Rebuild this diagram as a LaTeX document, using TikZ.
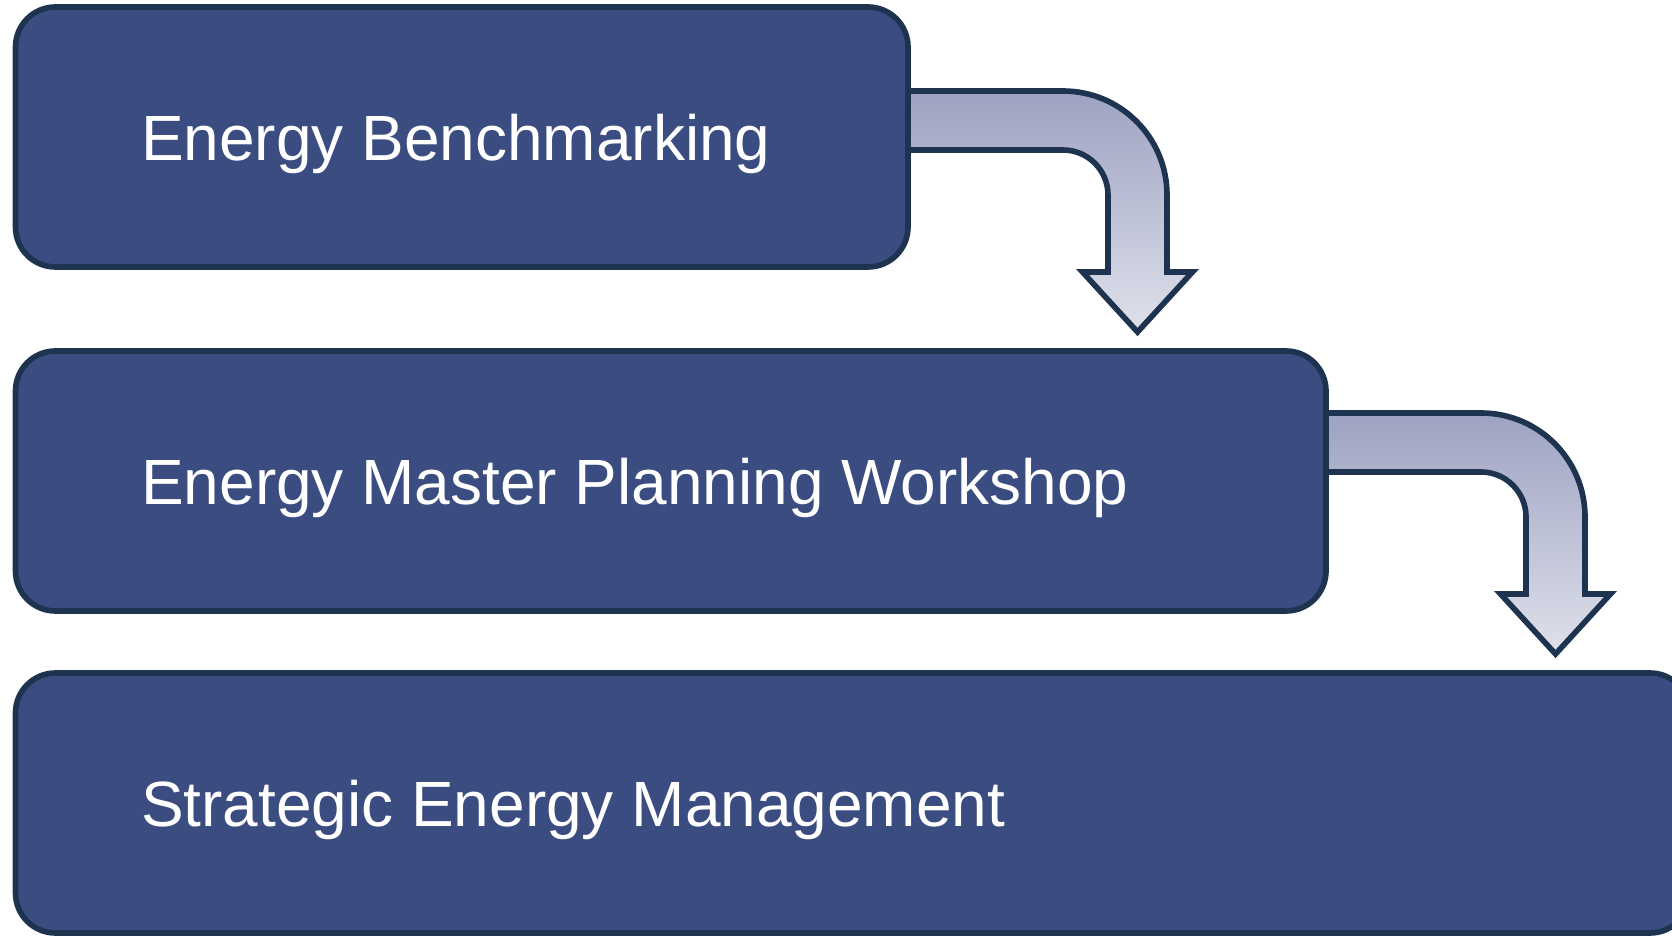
\documentclass[tikz,border=0pt]{standalone}
\usepackage{fontspec}
\setmainfont{Liberation Sans}
\usepackage{tikz}
\usetikzlibrary{calc}

\definecolor{boxblue}{RGB}{59,76,128}
\definecolor{boxline}{RGB}{30,51,79}
\definecolor{arrowtop}{RGB}{157,162,193}
\definecolor{arrowbottom}{RGB}{223,225,235}

\tikzset{
  stage/.style={draw=boxline,fill=boxblue,line width=1.6pt,rounded corners=0.4cm,
    minimum height=2.6cm,outer sep=0pt,inner sep=0pt},
  stagetext/.style={anchor=base west,inner sep=0pt,text=white,font=\fontsize{18.2}{22}\selectfont},
  turnarrow/.style={draw=boxline,line width=1.6pt,top color=arrowtop,bottom color=arrowbottom}
}

% bent block arrow, starting at the top left corner of its band
\newcommand{\bentarrow}[1]{%
  \path[turnarrow] (#1) -- ++(1.55,0) arc[start angle=90,end angle=0,radius=1.04]
    -- ++(0,-0.77) -- ++(0.255,0) -- ++(-0.55,-0.6) -- ++(-0.55,0.6) -- ++(0.255,0)
    -- ++(0,0.77) arc[start angle=0,end angle=90,radius=0.45] -- ++(-1.55,0) -- cycle;}

\begin{document}
\begin{tikzpicture}
\useasboundingbox (0,0) rectangle (16.72,-9.36);

%%% STAGES
\path[draw] (4.6175,-1.37) node[stage,minimum width=8.925cm] (bench) {};
\path[draw] (6.7075,-4.81) node[stage,minimum width=13.105cm] (plan) {};
\path[draw] (8.5275,-8.03) node[stage,minimum width=16.745cm] (sem) {};

\path[draw] ([xshift=1.25cm,yshift=-0.24cm]bench.west) node[stagetext] (benchtext) {Energy Benchmarking};
\path[draw] ([xshift=1.25cm,yshift=-0.235cm]plan.west) node[stagetext] (plantext) {Energy Master Planning Workshop};
\path[draw] ([xshift=1.25cm,yshift=-0.23cm]sem.west) node[stagetext] (semtext) {Strategic Energy Management};

%%% ARROWS
\coordinate (turn1) at ([yshift=-0.84cm]bench.north east);
\coordinate (turn2) at ([yshift=-0.62cm]plan.north east);
\bentarrow{turn1}
\bentarrow{turn2}
\end{tikzpicture}
\end{document}
